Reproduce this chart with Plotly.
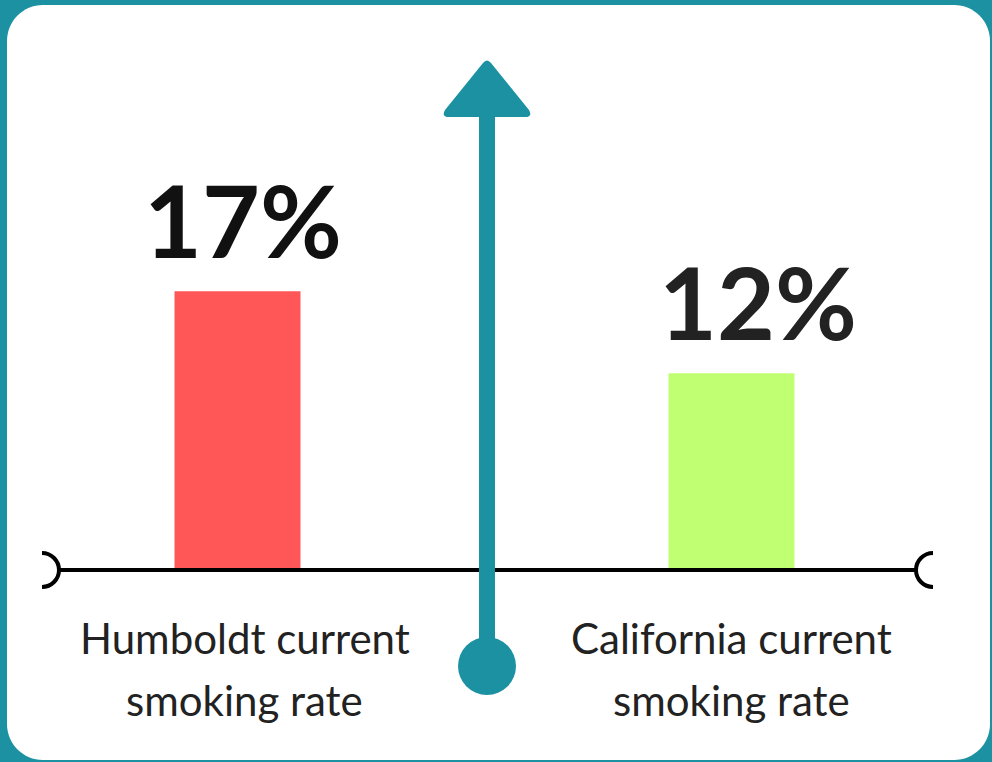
import plotly.graph_objects as go

# ---- data ----
categories = ["Humboldt", "California"]
label_line1 = ["Humboldt current", "California current"]
label_line2 = ["smoking rate", "smoking rate"]
rates = [17, 12]
value_labels = [f"{v}%" for v in rates]
bar_colors = ["#FF5757", "#C1FF72"]

W, H = 992, 762
TEAL = "#1B91A1"

def px(x):
    return x / W

def py(y):
    return 1 - y / H

# axis mapping: category index 0 -> px 237.5, 1 -> px 731.5 ; value 0 -> px 570
x_unit = 494.0
x_range = [-237.5 / x_unit, (W - 237.5) / x_unit]
y_unit = 16.4
y_range = [-(H - 570) / y_unit, 570 / y_unit]

fig = go.Figure()
fig.add_trace(go.Bar(
    x=list(range(len(categories))), y=rates,
    width=0.255, marker=dict(color=bar_colors, line=dict(width=0)),
    hoverinfo="skip", showlegend=False,
))

shapes = []
# white rounded card
x0, y0, x1, y1, r = 7, 5, 990, 760, 36
k = 0.5523 * r
card = (f"M {px(x0+r)},{py(y0)} L {px(x1-r)},{py(y0)} "
        f"C {px(x1-r+k)},{py(y0)} {px(x1)},{py(y0+r-k)} {px(x1)},{py(y0+r)} "
        f"L {px(x1)},{py(y1-r)} "
        f"C {px(x1)},{py(y1-r+k)} {px(x1-r+k)},{py(y1)} {px(x1-r)},{py(y1)} "
        f"L {px(x0+r)},{py(y1)} "
        f"C {px(x0+r-k)},{py(y1)} {px(x0)},{py(y1-r+k)} {px(x0)},{py(y1-r)} "
        f"L {px(x0)},{py(y0+r)} "
        f"C {px(x0)},{py(y0+r-k)} {px(x0+r-k)},{py(y0)} {px(x0+r)},{py(y0)} Z")
shapes.append(dict(type="path", path=card, xref="paper", yref="paper",
                   fillcolor="white", line=dict(width=0), layer="below"))

# baseline
shapes.append(dict(type="line", xref="paper", yref="y", x0=px(59), x1=px(916), y0=0, y1=0,
                   line=dict(color="black", width=4), layer="above"))
# end caps
cr = 17
kc = 0.5523 * cr
cx, cy = 42, 570
left_cap = (f"M {px(cx)},{py(cy-cr)} C {px(cx+kc)},{py(cy-cr)} {px(cx+cr)},{py(cy-kc)} {px(cx+cr)},{py(cy)} "
            f"C {px(cx+cr)},{py(cy+kc)} {px(cx+kc)},{py(cy+cr)} {px(cx)},{py(cy+cr)}")
cx = 933
right_cap = (f"M {px(cx)},{py(cy-cr)} C {px(cx-kc)},{py(cy-cr)} {px(cx-cr)},{py(cy-kc)} {px(cx-cr)},{py(cy)} "
             f"C {px(cx-cr)},{py(cy+kc)} {px(cx-kc)},{py(cy+cr)} {px(cx)},{py(cy+cr)}")
for p in (left_cap, right_cap):
    shapes.append(dict(type="path", path=p, xref="paper", yref="paper",
                       line=dict(color="black", width=4), layer="above"))

# teal arrow: shaft, head, circle
shapes.append(dict(type="rect", xref="paper", yref="paper", x0=px(479), x1=px(495),
                   y0=py(110), y1=py(650), fillcolor=TEAL, line=dict(width=0), layer="above"))
head = (f"M {px(483)},{py(63)} Q {px(487)},{py(58)} {px(491)},{py(63)} "
        f"L {px(529)},{py(110)} Q {px(533)},{py(117)} {px(525)},{py(117)} "
        f"L {px(449)},{py(117)} Q {px(441)},{py(117)} {px(445)},{py(110)} Z")
shapes.append(dict(type="path", path=head, xref="paper", yref="paper",
                   fillcolor=TEAL, line=dict(width=0), layer="above"))
shapes.append(dict(type="circle", xref="paper", yref="paper", x0=px(458), x1=px(516),
                   y0=py(637), y1=py(695), fillcolor=TEAL, line=dict(width=0), layer="above"))

annotations = []
value_xshift = [5, 26]
value_colors = ["#111111", "#222222"]
for i, (txt, v) in enumerate(zip(value_labels, rates)):
    annotations.append(dict(x=i, y=v, xref="x", yref="y", text=f"<b>{txt}</b>",
                            showarrow=False, yanchor="bottom", yshift=10, xshift=value_xshift[i],
                            font=dict(family="Lato", size=100, color=value_colors[i], weight=900)))
label_x_shift = [7, 0]
for i in range(len(categories)):
    annotations.append(dict(x=i, y=py(638), xref="x", yref="paper", text=label_line1[i],
                            showarrow=False, yanchor="middle", xshift=label_x_shift[i],
                            font=dict(family="Lato", size=42, color="#222222")))
    annotations.append(dict(x=i, y=py(700), xref="x", yref="paper", text=label_line2[i],
                            showarrow=False, yanchor="middle", xshift=label_x_shift[i],
                            font=dict(family="Lato", size=42, color="#222222")))

fig.update_layout(
    width=W, height=H, margin=dict(l=0, r=0, t=0, b=0),
    paper_bgcolor=TEAL, plot_bgcolor="rgba(0,0,0,0)",
    xaxis=dict(range=x_range, visible=False, fixedrange=True),
    yaxis=dict(range=y_range, visible=False, fixedrange=True),
    shapes=shapes, annotations=annotations, showlegend=False,
)
fig.write_html("out.html", config={"displayModeBar": False},
               post_script="document.body.style.margin='0';")
